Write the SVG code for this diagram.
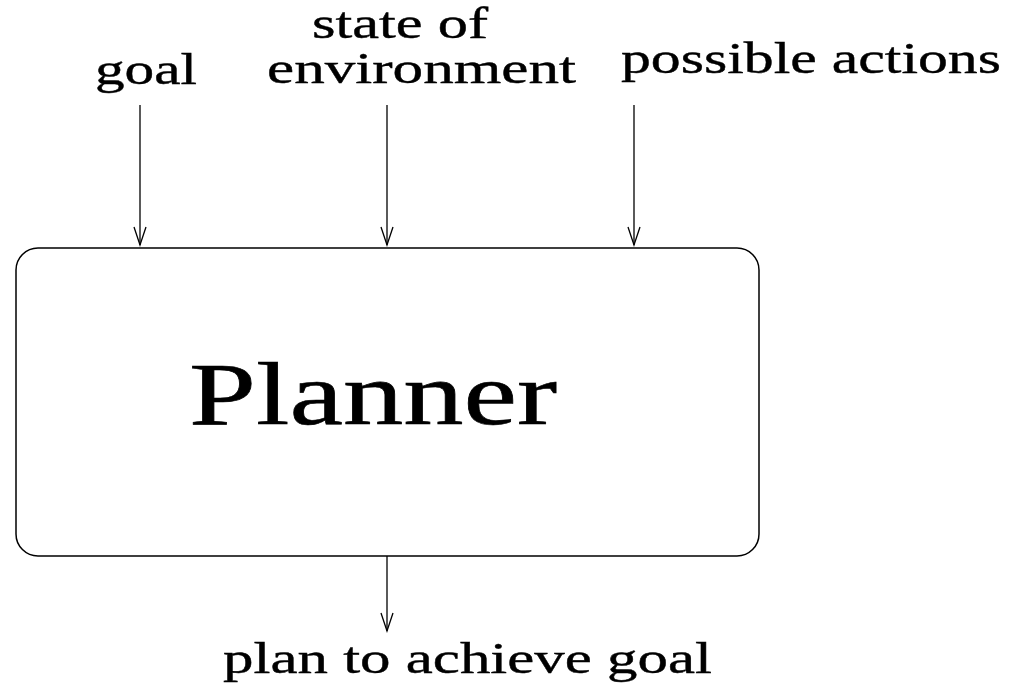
<svg xmlns="http://www.w3.org/2000/svg" width="1021" height="692" viewBox="0 0 1021 692">
  <style>
    .lbl { font-family: "Liberation Serif", "Times New Roman", serif; font-size: 44px; fill: #000; stroke: #000; stroke-width: 0.4; }
    .title { font-family: "Liberation Serif", "Times New Roman", serif; font-size: 88px; fill: #000; stroke: #000; stroke-width: 0.6; }
    .edge { stroke: #000; stroke-width: 1.3; fill: none; }
  </style>
  <defs>
    <!-- open vee arrowhead, tip at the line end -->
    <marker id="vee" markerUnits="userSpaceOnUse" markerWidth="22" markerHeight="16" refX="20" refY="8" orient="auto" viewBox="0 0 22 16">
      <path d="M2,2 L20,8 L2,14" fill="none" stroke="#000" stroke-width="1.3"/>
    </marker>
  </defs>
  <rect width="1021" height="692" fill="#fff"/>

  <!-- input labels -->
  <g id="goal">
    <text class="lbl" x="95" y="84" textLength="102" lengthAdjust="spacingAndGlyphs">goal</text>
  </g>
  <g id="state">
    <text class="lbl" x="312" y="38" textLength="176" lengthAdjust="spacingAndGlyphs">state of</text>
    <text class="lbl" x="267" y="83" textLength="309" lengthAdjust="spacingAndGlyphs">environment</text>
  </g>
  <g id="actions">
    <text class="lbl" x="621" y="73" textLength="380" lengthAdjust="spacingAndGlyphs">possible actions</text>
  </g>

  <!-- central process box -->
  <g id="planner">
    <rect x="16" y="248" width="743" height="308" rx="22" ry="22" fill="none" stroke="#000" stroke-width="1.5"/>
    <text class="title" x="189" y="424" textLength="368" lengthAdjust="spacingAndGlyphs">Planner</text>
  </g>

  <!-- output label -->
  <g id="plan">
    <text class="lbl" x="223" y="673" textLength="489" lengthAdjust="spacingAndGlyphs">plan to achieve goal</text>
  </g>

  <g id="connectors">
    <line class="edge" x1="140" y1="105" x2="140" y2="245" marker-end="url(#vee)"/>
    <line class="edge" x1="387" y1="105" x2="387" y2="245" marker-end="url(#vee)"/>
    <line class="edge" x1="634" y1="105" x2="634" y2="245" marker-end="url(#vee)"/>
    <line class="edge" x1="387" y1="556" x2="387" y2="631" marker-end="url(#vee)"/>
  </g>
</svg>
